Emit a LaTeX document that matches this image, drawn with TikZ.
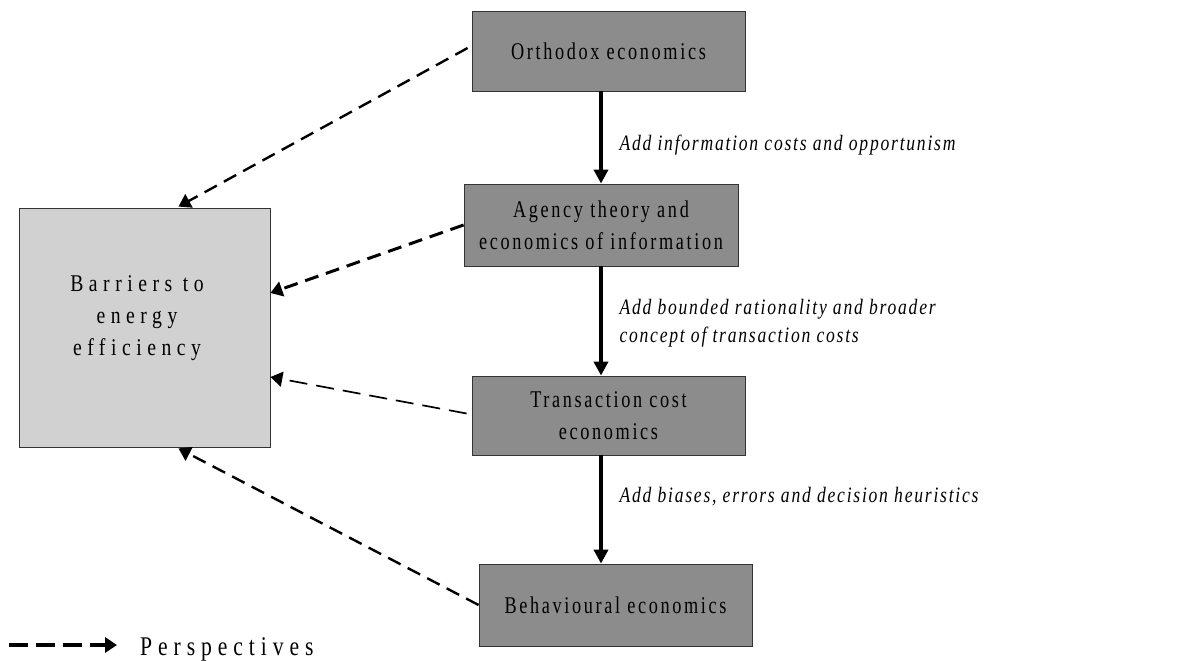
\documentclass[tikz,border=0pt]{standalone}
\usepackage{fontspec}
\setmainfont{Liberation Serif}
\newfontfamily\boxfont{Liberation Serif}[LetterSpace=11, FakeStretch=0.76]
\newfontfamily\labfont{Liberation Serif}[LetterSpace=8, FakeStretch=0.8]
\newfontfamily\widefont{Liberation Serif}[LetterSpace=23, FakeStretch=0.82]
\newfontfamily\legfont{Liberation Serif}[LetterSpace=22, FakeStretch=0.8]
\usetikzlibrary{arrows.meta,positioning}

\begin{document}
\begin{tikzpicture}[x=1pt, y=-1pt,
    theory/.style={draw=black!80, fill=black!45, line width=0.8pt, minimum width=273pt, minimum height=80pt,
        align=center, font=\boxfont\fontsize{24}{32}\selectfont},
    flow/.style={line width=3.8pt, -{Triangle[length=14pt, width=14pt]}},
    persp/.style={line width=2.4pt, dash pattern=on 14pt off 8pt, -{Triangle[length=12pt, width=15pt]}},
    addlabel/.style={anchor=west, align=left, font=\labfont\itshape\fontsize{22}{28}\selectfont}]
    \useasboundingbox (0,0) rectangle (1186,661);
    % the four theories, top to bottom
    \node[theory] (ortho) at (608.5,51) {Orthodox economics};
    \node[theory, minimum height=82pt, minimum width=274pt] (agency) at (601,225) {Agency theory and\\economics of information};
    \node[theory, minimum height=79pt] (trans) at (608.5,415.5) {Transaction cost\\economics};
    \node[theory, minimum height=82pt] (behav) at (615.5,605) {Behavioural economics};
    % the barriers
    \node[draw=black!80, fill=black!18, line width=0.8pt, minimum width=251pt, minimum height=239pt] (barrier) at (144.5,327.5) {};
    \node[align=center, font=\widefont\fontsize{24}{32}\selectfont] (bartext) at (137,318) {Barriers to\\energy\\efficiency};
    % what each step adds
    \draw[flow] (agency.north |- ortho.south) -- (agency.north);
    \draw[flow] (agency.south) -- (agency.south |- trans.north);
    \draw[flow] (agency.south |- trans.south) -- (agency.south |- behav.north);
    \node[addlabel] (add1) at (616,145) {Add information costs and opportunism};
    \node[addlabel] (add2) at (616,323) {Add bounded rationality and broader\\concept of transaction costs};
    \node[addlabel] (add3) at (616,497) {Add biases, errors and decision heuristics};
    % perspectives
    \draw[persp] ([yshift=3pt,xshift=-4pt]ortho.west) -- ([xshift=34pt,yshift=1pt]barrier.north);
    \draw[persp, line width=3pt] (agency.west) -- ([yshift=34.5pt]barrier.east);
    \draw[persp, line width=1.7pt, dash pattern=on 18pt off 9pt] ([yshift=2pt,xshift=-5pt]trans.west) -- ([yshift=-49.5pt]barrier.east);
    \draw[persp] (behav.west) -- ([xshift=34pt,yshift=-1pt]barrier.south);
    % legend
    \coordinate (leg1) at (9,645);
    \coordinate (leg2) at (117,645);
    \draw[persp, line width=3.8pt, dash pattern=on 19pt off 8pt] (leg1) -- (leg2);
    \node[anchor=base west, inner sep=0pt, font=\legfont\fontsize{27}{30}\selectfont] (legtext) at (140,655) {Perspectives};
\end{tikzpicture}
\end{document}
